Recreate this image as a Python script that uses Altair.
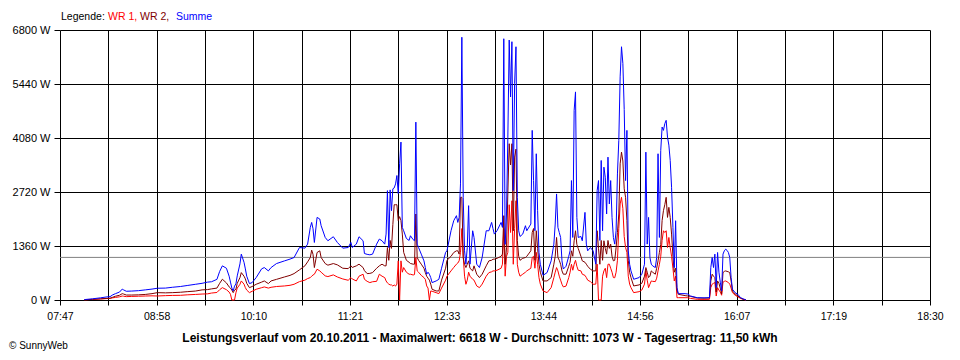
import altair as alt
import pandas as pd

# ---- data ----
zeit = ["08:05","08:11","08:17","08:21","08:24","08:26","08:28","08:31","08:33","08:34",
        "08:36","08:40","08:45","08:50","08:55","08:59","09:05","09:10","09:16","09:21",
        "09:27","09:32","09:36","09:39","09:43","09:45","09:47","09:50","09:52","09:53",
        "09:54","09:55","09:56","09:57","09:58","10:00","10:01","10:03","10:04","10:05",
        "10:07","10:09","10:12","10:16","10:18","10:21","10:23","10:27","10:33","10:37",
        "10:40","10:44","10:48","10:50","10:52","10:53","10:54","10:55","10:57","10:59",
        "11:00","11:03","11:05","11:09","11:12","11:16","11:20","11:22","11:23","11:26",
        "11:28","11:31","11:32","11:34","11:36","11:38","11:41","11:43","11:45","11:47",
        "11:48","11:49","11:50","11:51","11:52","11:53","11:54","11:55","11:56","11:57",
        "11:58","11:59","12:00","12:01","12:03","12:05","12:06","12:08","12:09","12:10",
        "12:11","12:12","12:14","12:16","12:17","12:18","12:19","12:20","12:21","12:22",
        "12:25","12:27","12:29","12:32","12:33","12:36","12:38","12:40","12:41","12:42",
        "12:43","12:44","12:45","12:46","12:47","12:48","12:49","12:50","12:52","12:53",
        "12:55","12:57","12:59","13:02","13:04","13:06","13:07","13:08","13:10","13:13",
        "13:14","13:15","13:16","13:17","13:18","13:19","13:20","13:21","13:22","13:23",
        "13:24","13:25","13:26","13:27","13:29","13:31","13:32","13:35","13:36","13:37",
        "13:38","13:39","13:40","13:41","13:42","13:44","13:47","13:50","13:52","13:53",
        "13:54","13:55","13:56","13:57","13:58","13:59","14:01","14:03","14:04","14:05",
        "14:06","14:07","14:08","14:09","14:10","14:12","14:13","14:15","14:16","14:17",
        "14:19","14:21","14:23","14:24","14:25","14:26","14:27","14:28","14:29","14:30",
        "14:31","14:32","14:33","14:34","14:35","14:36","14:37","14:38","14:39","14:40",
        "14:41","14:42","14:43","14:44","14:45","14:46","14:47","14:48","14:49","14:51",
        "14:55","14:57","14:59","15:00","15:01","15:02","15:03","15:04","15:05","15:07",
        "15:08","15:09","15:10","15:11","15:12","15:13","15:14","15:15","15:16","15:17",
        "15:18","15:19","15:20","15:21","15:22","15:23","15:24","15:29","15:31","15:33",
        "15:38","15:43","15:47","15:48","15:49","15:50","15:51","15:52","15:53","15:54",
        "15:55","15:56","15:57","15:58","15:59","16:00","16:01","16:02","16:03","16:04",
        "16:06","16:08","16:10","16:12","16:14"]

wr1 = [5,15,25,35,40,55,65,80,100,95,
       85,90,95,100,105,101,110,115,118,130,
       140,150,155,175,190,260,311,260,200,143,
       0,0,0,180,300,396,480,400,311,250,
       185,220,270,310,329,300,320,340,354,370,
       396,463,500,540,564,600,630,649,775,733,
       700,607,590,632,580,530,497,564,530,480,
       600,649,522,470,438,460,470,649,600,564,
       480,430,400,380,380,350,380,350,400,986,
       0,986,700,817,700,649,649,630,640,1070,
       733,700,620,564,520,354,300,0,228,220,
       185,160,300,500,600,733,820,902,930,986,
       1200,1800,1100,600,396,500,700,600,522,500,
       354,311,400,600,690,710,733,733,750,800,
       902,1800,600,1100,1200,2400,1700,2500,900,1800,
       2500,900,700,600,650,700,733,800,1070,1100,
       800,1200,900,564,400,228,185,311,564,700,
       817,733,600,500,396,330,350,564,700,900,
       750,900,1000,850,750,733,650,620,564,500,
       463,396,400,902,0,0,0,600,733,800,
       564,900,902,800,700,564,560,700,1000,1800,
       2419,2586,2300,1600,1322,1200,600,400,311,185,
       210,250,400,733,500,311,400,480,470,463,
       550,733,900,1100,1500,1744,1700,1744,1322,1575,
       1322,1100,800,480,600,58,58,58,58,40,
       17,15,17,311,400,420,440,100,311,250,
       200,120,446,470,480,460,440,400,300,185,
       120,80,40,15,0]

wr2 = [5,15,30,40,45,70,95,120,160,150,
       125,125,130,140,160,185,180,185,195,210,
       225,255,262,280,300,420,523,430,330,300,
       250,185,250,270,420,564,690,600,531,420,
       311,340,396,450,480,413,480,520,581,620,
       665,760,860,960,1070,1256,1150,817,1196,1239,
       1070,918,877,918,885,800,790,860,820,860,
       902,817,740,665,670,690,800,860,902,860,
       860,1322,1000,1500,1300,1900,2400,2400,2400,2000,
       2100,2000,1660,1200,1000,950,920,902,902,2166,
       1070,1000,902,800,690,600,550,500,400,270,
       228,228,500,800,1000,1100,1196,1239,1239,1155,
       2586,2586,1070,900,817,900,986,800,733,860,
       649,564,650,860,986,1000,1028,1028,1050,1100,
       1155,2124,900,1322,2700,3936,3400,3936,1744,3600,
       3800,1500,1100,1000,1050,1070,1100,1239,1700,1800,
       1000,1744,1300,902,700,480,480,564,902,1100,
       1575,1070,1000,900,733,650,650,850,950,1239,
       1100,1492,1744,1400,1300,1100,986,950,902,850,
       775,733,733,1744,1300,900,1500,1000,1492,1300,
       1155,1500,1300,1407,1100,986,1000,1322,1700,2166,
       3430,3724,3500,2800,2586,2000,1000,700,564,354,
       380,420,600,817,700,564,600,733,700,649,
       800,986,1200,1400,2000,2250,2400,2586,2080,2334,
       2080,1660,1100,700,800,250,143,110,101,90,
       50,45,50,480,649,600,564,200,480,420,
       300,150,690,720,733,720,710,690,480,228,
       150,101,50,17,0]

summe = [10,30,55,75,85,130,160,200,275,255,
         220,225,235,255,275,296,300,320,340,365,
         395,420,450,460,520,720,860,800,600,450,
         300,228,350,404,607,910,1155,950,783,600,
         413,438,565,784,817,733,817,918,986,1030,
         1070,1322,1306,1407,1828,1954,1795,1449,2080,2040,
         1871,1575,1492,1593,1449,1306,1322,1449,1322,1407,
         1593,1492,1171,1150,1138,1155,1407,1534,1492,1407,
         1660,2755,1322,2773,2250,2800,2823,2924,3135,2680,
         3430,3977,1828,1744,1550,1500,1618,1520,1492,4480,
         1407,1322,1155,986,817,649,700,650,565,438,
         480,520,800,1200,1239,1744,1997,2124,1954,2080,
         2924,6618,2586,1239,902,1322,2376,902,1744,1575,
         902,817,1070,1744,1744,1954,1800,1660,1744,1954,
         1828,6580,1400,2166,4103,6547,5114,6505,2755,5452,
         6378,2586,1744,1600,1660,1871,1744,1913,4272,3008,
         1744,3683,2250,1200,900,620,690,986,1407,1913,
         2671,1828,1700,1575,986,780,850,1100,1239,3008,
         1575,4778,5241,2080,1575,1600,1492,2207,1407,1239,
         1322,1239,902,2755,3008,1500,3514,1744,3345,3092,
         2166,3598,2419,3008,2080,1575,1407,1744,3176,4020,
         5620,6378,5958,4800,3008,4272,1239,900,733,522,
         564,649,902,3724,1407,2080,1070,902,860,817,
         1070,3683,1575,3767,4356,4272,4441,4525,4103,3900,
         3514,2839,1828,817,1997,311,160,160,150,101,
         58,55,58,817,1070,817,1155,311,1196,700,
         450,228,1155,1239,1280,1250,1196,1070,564,270,
         185,143,58,30,0]

y_werte = [0, 1360, 2720, 4080, 5440, 6800]
x_start, x_ende = "07:47", "18:30"
durchschnitt = [1073]
titel = "Leistungsverlauf vom 20.10.2011 - Maximalwert: 6618 W - Durchschnitt: 1073 W - Tagesertrag: 11,50 kWh"
legende = ["Legende:", "WR 1,", "WR 2,", "Summe"]
farben = ["#000000", "#FF0000", "#800000", "#0000FF"]
copyright_text = "\u00a9 SunnyWeb"

FONT = "Liberation Sans"


def to_min(t):
    h, m = t.split(":")
    return int(h) * 60 + int(m)


t0, t1 = to_min(x_start), to_min(x_ende)
step = (t1 - t0) / 18
grid_vals = [t0 + k * step for k in range(19)]

df = pd.DataFrame({
    "t": [to_min(z) for z in zeit],
    "zeit": zeit,
    "wr1": wr1,
    "wr2": wr2,
    "summe": summe,
})

label_expr = (
    f"(round((datum.value - {t0}) / {step}) % 2 == 0) ? "
    "(pad(floor(round(datum.value) / 60) + '', 2, '0', 'left') + ':' + "
    "pad((round(datum.value) % 60) + '', 2, '0', 'left')) : ''"
)

x_axis = alt.Axis(values=grid_vals, labelExpr=label_expr, grid=True, gridColor="#000000",
                  gridOpacity=1, gridWidth=1, ticks=True, tickColor="#000000", tickSize=5,
                  domain=True, domainColor="#000000", domainWidth=1, labelFont=FONT,
                  labelFontSize=10.5, labelColor="#000000", labelPadding=6, labelOverlap=False,
                  labelFlush=False, title=None)
y_axis = alt.Axis(values=y_werte, labelExpr="datum.value + ' W'", grid=True, gridColor="#000000",
                  gridOpacity=1, gridWidth=1, ticks=True, tickColor="#000000", tickSize=6,
                  domain=False, labelFont=FONT, labelFontSize=11, labelColor="#000000",
                  labelPadding=4, labelOverlap=False, labelFlush=False, title=None)

x_scale = alt.Scale(domain=[t0, t1], nice=False, zero=False)
y_scale = alt.Scale(domain=[0, 6800], nice=False)


def x_enc():
    return alt.X("t:Q", scale=x_scale, axis=x_axis)


def y_enc(field):
    return alt.Y(f"{field}:Q", scale=y_scale, axis=y_axis)


avg_rule = alt.Chart(pd.DataFrame({"avg": durchschnitt})).mark_rule(
    color="#808080", strokeWidth=1).encode(y=y_enc("avg"))

line_wr1 = alt.Chart(df).mark_line(color="#FF0000", strokeWidth=1).encode(
    x=x_enc(), y=y_enc("wr1"))
line_wr2 = alt.Chart(df).mark_line(color="#800000", strokeWidth=1).encode(
    x=x_enc(), y=y_enc("wr2"))
line_sum = alt.Chart(df).mark_line(color="#0000FF", strokeWidth=1).encode(
    x=x_enc(), y=y_enc("summe"))


def text_layer(s, color, xpos, ypos, size=11, weight="normal", align="left"):
    return alt.Chart(pd.DataFrame({"s": [s]})).mark_text(
        align=align, baseline="middle", font=FONT, fontSize=size, fontWeight=weight,
        color=color).encode(x=alt.value(xpos), y=alt.value(ypos), text="s:N")


leg_x = [1, 48, 80, 116]
texts = [text_layer(s, c, px, -13.5, size=10.5) for s, c, px in zip(legende, farben, leg_x)]
texts.append(text_layer(titel, "#000000", 420, 307.5, size=12, weight="bold", align="center"))
texts.append(text_layer(copyright_text, "#000000", -51, 316, size=10))

chart = alt.layer(avg_rule, line_wr1, line_wr2, line_sum, *texts).properties(
    width=870, height=270,
    autosize=alt.AutoSizeParams(type="none"),
    padding={"left": 52, "top": 22, "right": 14, "bottom": 52},
    background="#FFFFFF",
).configure_view(stroke=None)

chart.save("out.html", embed_options={"renderer": "svg", "actions": False})
